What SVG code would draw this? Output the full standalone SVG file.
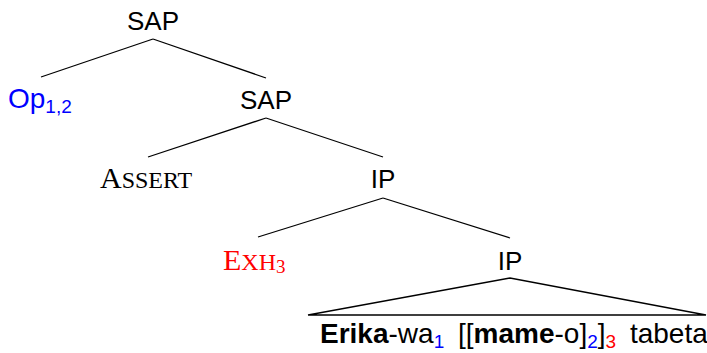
<svg xmlns="http://www.w3.org/2000/svg" width="707" height="353" viewBox="0 0 707 353">
<style>
.s{font-family:"Liberation Sans",Arial,sans-serif;font-size:26px;fill:#000}
.r{font-family:"Liberation Serif","Times New Roman",serif;font-size:30px;fill:#000}
.sc{font-size:24px}
.sub{font-size:19px}
.b{font-weight:bold}
.blue{fill:#0000ff}
.red{fill:#ff0000}
.big{font-size:28px}
line,polygon{stroke:#000;stroke-width:1.3;fill:none}
</style>
<g id="connectors">
<line x1="153" y1="39" x2="41" y2="77"/>
<line x1="153" y1="39" x2="266" y2="78"/>
<line x1="266" y1="118" x2="148" y2="157"/>
<line x1="266" y1="118" x2="383" y2="157"/>
<line x1="383" y1="198" x2="258" y2="237"/>
<line x1="383" y1="198" x2="510" y2="238"/>
<polygon points="510,278 308,315 706,315"/>
</g>
<g id="sap1"><text class="s" x="153" y="30" text-anchor="middle">SAP</text></g>
<g id="op"><text class="s big blue" x="8" y="108">Op<tspan class="sub" dy="5">1,2</tspan></text></g>
<g id="sap2"><text class="s" x="266" y="109" text-anchor="middle">SAP</text></g>
<g id="assert"><text class="r" x="100" y="188">A<tspan class="sc">SSERT</tspan></text></g>
<g id="ip1"><text class="s" x="383" y="188" text-anchor="middle">IP</text></g>
<g id="exh"><text class="r red" x="223" y="270">E<tspan class="sc">XH</tspan><tspan class="sub" dy="3">3</tspan></text></g>
<g id="ip2"><text class="s" x="510" y="270" text-anchor="middle">IP</text></g>
<g id="leaf"><text class="s big" x="320" y="343" word-spacing="6"><tspan class="b">Erika</tspan>-wa<tspan class="sub blue" dy="5">1</tspan><tspan dy="-5"> [[</tspan><tspan class="b">mame</tspan>-o]<tspan class="sub blue" dy="5">2</tspan><tspan dy="-5">]</tspan><tspan class="sub red" dy="5">3</tspan><tspan dy="-5"> tabeta</tspan></text></g>
</svg>
